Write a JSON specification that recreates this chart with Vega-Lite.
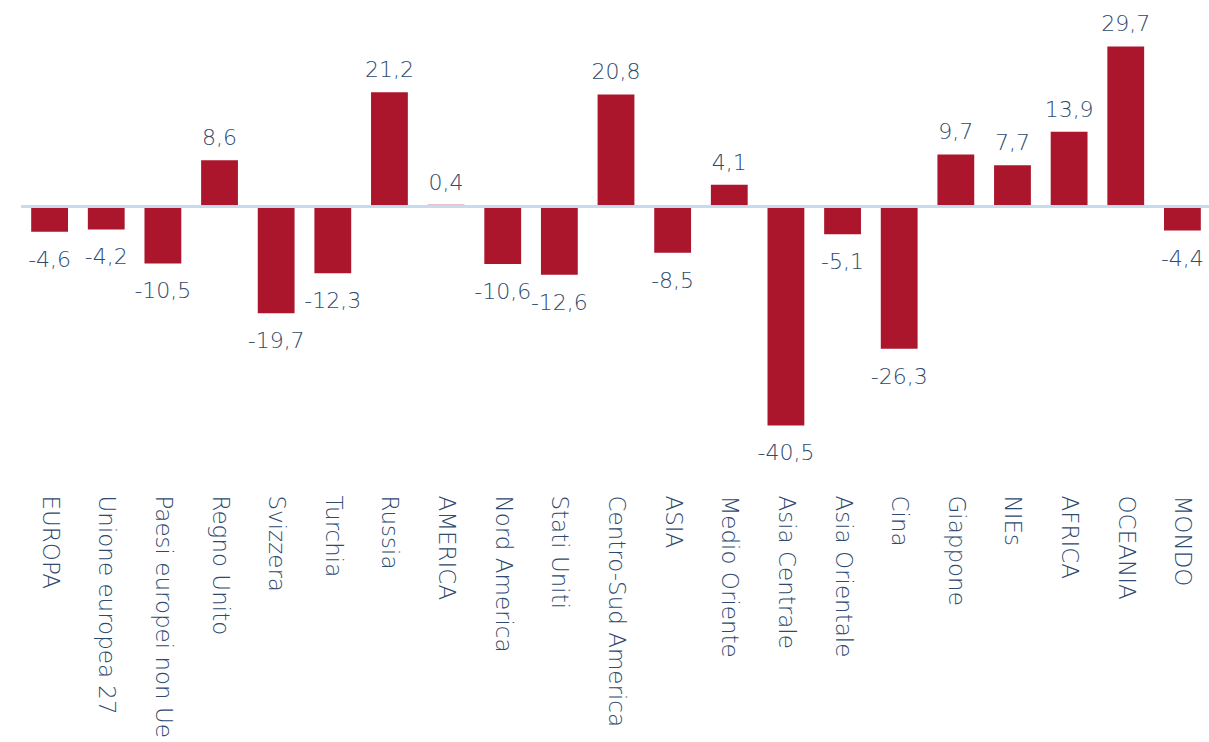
{
  "$schema": "https://vega.github.io/schema/vega-lite/v6.json",
  "width": 1190,
  "height": 480,
  "padding": {"left": 21, "top": 0, "right": 0, "bottom": 262},
  "autosize": {"type": "none"},
  "config": {
    "view": {"stroke": null},
    "locale": {"number": {"decimal": ",", "thousands": ".", "grouping": [3], "currency": ["€", ""], "minus": "-"}},
    "font": "DejaVu Sans"
  },
  "data": {
    "values": [
      {"area": "EUROPA", "v": -4.6},
      {"area": "Unione europea 27", "v": -4.2},
      {"area": "Paesi europei non Ue", "v": -10.5},
      {"area": "Regno Unito", "v": 8.6},
      {"area": "Svizzera", "v": -19.7},
      {"area": "Turchia", "v": -12.3},
      {"area": "Russia", "v": 21.2},
      {"area": "AMERICA", "v": 0.4},
      {"area": "Nord America", "v": -10.6},
      {"area": "Stati Uniti", "v": -12.6},
      {"area": "Centro-Sud America", "v": 20.8},
      {"area": "ASIA", "v": -8.5},
      {"area": "Medio Oriente", "v": 4.1},
      {"area": "Asia Centrale", "v": -40.5},
      {"area": "Asia Orientale", "v": -5.1},
      {"area": "Cina", "v": -26.3},
      {"area": "Giappone", "v": 9.7},
      {"area": "NIEs", "v": 7.7},
      {"area": "AFRICA", "v": 13.9},
      {"area": "OCEANIA", "v": 29.7},
      {"area": "MONDO", "v": -4.4}
    ]
  },
  "encoding": {
    "x": {
      "field": "area", "type": "nominal", "sort": null,
      "scale": {"paddingInner": 0.35, "paddingOuter": 0.18},
      "axis": {
        "title": null, "domain": false, "ticks": false,
        "labelAngle": 90, "labelAlign": "left", "labelBaseline": "middle",
        "labelPadding": 15, "labelFontSize": 23, "labelFont": "DejaVu Sans", "labelFontWeight": 200,
        "labelColor": "#2e4a6e", "labelLimit": 300
      }
    },
    "y": {
      "field": "v", "type": "quantitative",
      "scale": {"domain": [-50.6, 38.3], "nice": false, "zero": false},
      "axis": null
    }
  },
  "layer": [
    {"mark": {"type": "bar", "color": "#ab162d"}, "encoding": {"y2": {"datum": 0}}},
    {"mark": {"type": "rule", "color": "#c6dbee", "strokeWidth": 2}, "encoding": {"x": null, "y": {"datum": 0}}},
    {
      "transform": [{"filter": "datum.v >= 0"}],
      "mark": {"type": "text", "baseline": "bottom", "dy": -10, "fontSize": 22, "font": "DejaVu Sans", "fontWeight": 200, "color": "#2e4a6e"},
      "encoding": {"text": {"field": "v", "type": "quantitative", "format": ".1f"}}
    },
    {
      "transform": [{"filter": "datum.v < 0"}],
      "mark": {"type": "text", "baseline": "top", "dy": 18, "fontSize": 22, "font": "DejaVu Sans", "fontWeight": 200, "color": "#2e4a6e"},
      "encoding": {"text": {"field": "v", "type": "quantitative", "format": ".1f"}}
    }
  ]
}
